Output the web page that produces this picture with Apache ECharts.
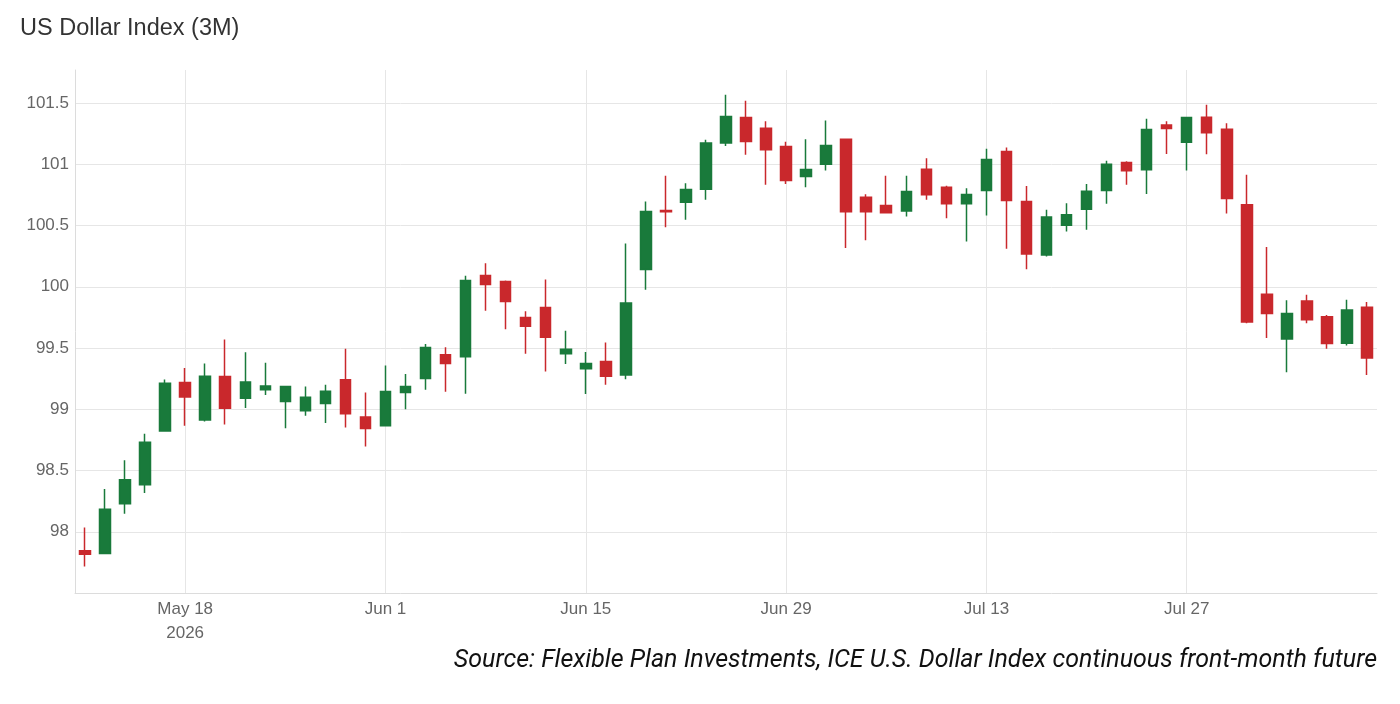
<!DOCTYPE html>
<html>
<head>
<meta charset="utf-8">
<title>US Dollar Index (3M)</title>
<script src="https://cdn.jsdelivr.net/npm/echarts@6/dist/echarts.min.js"></script>
<style>
  html, body { margin: 0; padding: 0; background: #fff; }
  #chart { width: 1400px; height: 704px; }
</style>
</head>
<body>
<div id="chart"></div>
<script>
// trading days (weekdays) May 11 - Aug 7, 2026
const dates = [
  '2026-05-11', '2026-05-12', '2026-05-13', '2026-05-14', '2026-05-15',
  '2026-05-18', '2026-05-19', '2026-05-20', '2026-05-21', '2026-05-22',
  '2026-05-25', '2026-05-26', '2026-05-27', '2026-05-28', '2026-05-29',
  '2026-06-01', '2026-06-02', '2026-06-03', '2026-06-04', '2026-06-05',
  '2026-06-08', '2026-06-09', '2026-06-10', '2026-06-11', '2026-06-12',
  '2026-06-15', '2026-06-16', '2026-06-17', '2026-06-18', '2026-06-19',
  '2026-06-22', '2026-06-23', '2026-06-24', '2026-06-25', '2026-06-26',
  '2026-06-29', '2026-06-30', '2026-07-01', '2026-07-02', '2026-07-03',
  '2026-07-06', '2026-07-07', '2026-07-08', '2026-07-09', '2026-07-10',
  '2026-07-13', '2026-07-14', '2026-07-15', '2026-07-16', '2026-07-17',
  '2026-07-20', '2026-07-21', '2026-07-22', '2026-07-23', '2026-07-24',
  '2026-07-27', '2026-07-28', '2026-07-29', '2026-07-30', '2026-07-31',
  '2026-08-03', '2026-08-04', '2026-08-05', '2026-08-06', '2026-08-07'
];

const opens = [
  97.845, 97.823, 98.229, 98.384, 98.823,
  99.218, 98.913, 99.267, 99.09, 99.16,
  99.064, 98.988, 99.048, 99.241, 98.936,
  98.865, 99.137, 99.252, 99.445, 99.429,
  100.093, 100.043, 99.75, 99.831, 99.453,
  99.331, 99.39, 99.279, 100.142, 100.623,
  100.69, 100.797, 101.173, 101.383, 101.295,
  101.145, 100.9, 101.0, 101.205, 100.732,
  100.664, 100.618, 100.96, 100.813, 100.677,
  100.786, 101.105, 100.697, 100.259, 100.503,
  100.634, 100.786, 101.015, 100.955, 101.32,
  101.181, 101.385, 101.287, 100.669, 99.94,
  99.573, 99.883, 99.755, 99.54, 99.834
];
const closes = [
  97.817, 98.183, 98.425, 98.73, 99.213,
  99.10, 99.27, 99.008, 99.223, 99.19,
  99.186, 99.099, 99.148, 98.963, 98.844,
  99.146, 99.186, 99.505, 99.374, 100.052,
  100.019, 99.88, 99.677, 99.589, 99.491,
  99.374, 99.27, 99.867, 100.615, 100.612,
  100.795, 101.173, 101.39, 101.187, 101.118,
  100.868, 100.958, 101.153, 100.612, 100.612,
  100.604, 100.778, 100.751, 100.677, 100.754,
  101.039, 100.705, 100.267, 100.569, 100.588,
  100.78, 101.0, 100.947, 101.284, 101.293,
  101.382, 101.257, 100.721, 99.713, 99.782,
  99.782, 99.73, 99.537, 99.81, 99.418
];
const lows = [
  97.717, 97.823, 98.147, 98.316, 98.823,
  98.866, 98.90, 98.875, 99.01, 99.117,
  98.846, 98.947, 98.887, 98.852, 98.697,
  98.865, 99.0, 99.159, 99.143, 99.127,
  99.804, 99.654, 99.453, 99.309, 99.369,
  99.124, 99.2, 99.246, 99.975, 100.487,
  100.547, 100.71, 101.15, 101.078, 100.833,
  100.84, 100.813, 100.95, 100.316, 100.381,
  100.604, 100.574, 100.71, 100.56, 100.37,
  100.582, 100.31, 100.144, 100.248, 100.452,
  100.465, 100.677, 100.833, 100.757, 101.085,
  100.95, 101.082, 100.599, 99.703, 99.581,
  99.303, 99.703, 99.494, 99.521, 99.279
];
const highs = [
  98.035, 98.35, 98.583, 98.80, 99.243,
  99.338, 99.373, 99.57, 99.466, 99.379,
  99.186, 99.186, 99.2, 99.494, 99.137,
  99.358, 99.287, 99.532, 99.507, 100.09,
  100.193, 100.052, 99.8, 100.06, 99.641,
  99.467, 99.546, 100.354, 100.697, 100.906,
  100.846, 101.2, 101.567, 101.518, 101.352,
  101.184, 101.205, 101.358, 101.205, 100.756,
  100.906, 100.906, 101.05, 100.824, 100.805,
  101.127, 101.137, 100.822, 100.629, 100.683,
  100.84, 101.029, 101.026, 101.371, 101.352,
  101.382, 101.486, 101.336, 100.914, 100.324,
  99.891, 99.935, 99.769, 99.894, 99.875
];

// x axis labels
const tickDates = ['2026-05-18', '2026-06-01', '2026-06-15', '2026-06-29', '2026-07-13', '2026-07-27'];
const tickLabels = ['May 18\n2026', 'Jun 1', 'Jun 15', 'Jun 29', 'Jul 13', 'Jul 27'];
// y axis labels
const yTicks = [98, 98.5, 99, 99.5, 100, 100.5, 101, 101.5];

const UP = '#197a3b';
const DOWN = '#c9282c';

// echarts wants [open, close, low, high]
const ohlc = dates.map((d, i) => [opens[i], closes[i], lows[i], highs[i]]);

const chart = echarts.init(document.getElementById('chart'), null, { renderer: 'canvas' });

const option = {
  animation: false,
  backgroundColor: '#fff',
  title: [
    {
      text: 'US Dollar Index (3M)',
      left: 15,
      top: 12,
      textStyle: {
        fontFamily: 'Liberation Sans',
        fontSize: 23.5,
        fontWeight: 'normal',
        color: '#333'
      }
    },
    {
      text: 'Source: Flexible Plan Investments, ICE U.S. Dollar Index continuous front-month future',
      right: 18,
      top: 643,
      textStyle: {
        fontFamily: 'Roboto',
        fontStyle: 'italic',
        fontSize: 25,
        fontWeight: 'normal',
        color: '#111'
      }
    }
  ],
  grid: {
    left: 75,
    right: 23,
    top: 70,
    bottom: 111
  },
  xAxis: {
    type: 'category',
    data: dates,
    boundaryGap: true,
    axisLine: { show: true, lineStyle: { color: '#dcdcdc', width: 1 } },
    axisTick: { show: false },
    axisLabel: {
      interval: (idx, val) => tickDates.includes(val),
      formatter: val => tickLabels[tickDates.indexOf(val)],
      color: '#666',
      fontFamily: 'Liberation Sans',
      fontSize: 17,
      lineHeight: 24,
      margin: 4
    },
    splitLine: {
      show: true,
      interval: (idx, val) => tickDates.includes(val),
      alignWithLabel: true,
      lineStyle: { color: '#e6e6e6', width: 1 }
    }
  },
  yAxis: {
    type: 'value',
    min: 97.5,
    max: 101.77,
    interval: 0.5,
    axisLine: { show: true, lineStyle: { color: '#dcdcdc', width: 1 } },
    axisTick: { show: false },
    axisLabel: {
      showMinLabel: false,
      showMaxLabel: false,
      formatter: v => (yTicks.includes(v) ? String(v) : ''),
      color: '#666',
      fontFamily: 'Liberation Sans',
      fontSize: 17,
      margin: 6
    },
    splitLine: {
      show: true,
      showMinLine: false,
      showMaxLine: false,
      lineStyle: { color: '#e6e6e6', width: 1 }
    }
  },
  series: [
    {
      type: 'candlestick',
      data: ohlc,
      barWidth: 11,
      itemStyle: {
        color: UP,
        color0: DOWN,
        borderColor: UP,
        borderColor0: DOWN,
        borderWidth: 1.5
      }
    }
  ]
};

chart.setOption(option);
</script>
</body>
</html>
